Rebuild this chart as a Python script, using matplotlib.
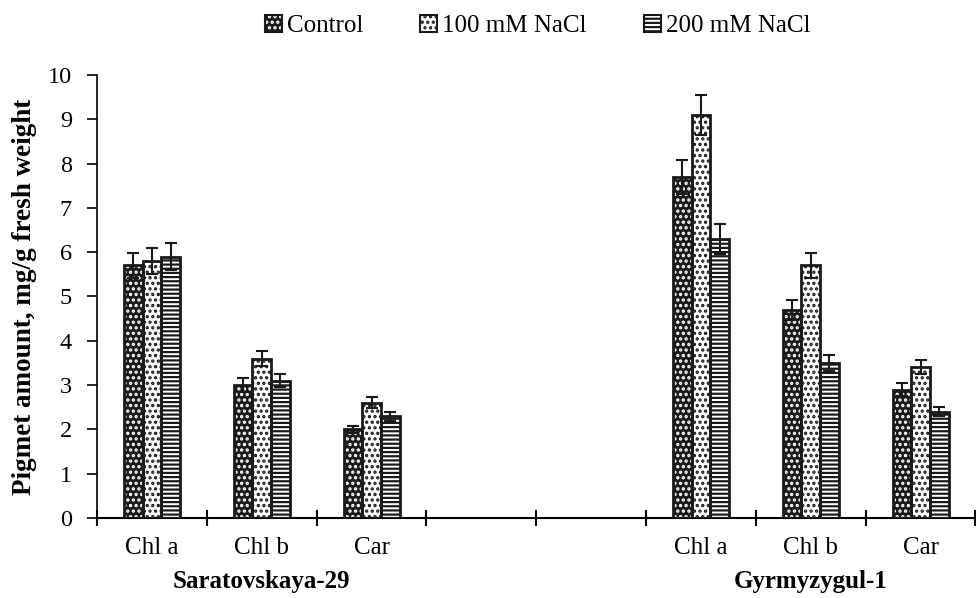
"""
Pigment amounts under salt stress - grouped bar chart
"""
import numpy as np
import matplotlib.pyplot as plt
from matplotlib.patches import Patch

plt.rcParams['font.family'] = ['Liberation Serif', 'DejaVu Serif']
plt.rcParams['hatch.linewidth'] = 1.6

# Data
categories = ['Chl a', 'Chl b', 'Car', '', '', 'Chl a', 'Chl b', 'Car']
groups = ['Saratovskaya-29', 'Gyrmyzygul-1']
series = ['Control', '100 mM NaCl', '200 mM NaCl']
control = [5.7, 3.0, 2.0, 0, 0, 7.7, 4.7, 2.9]
nacl100 = [5.8, 3.6, 2.6, 0, 0, 9.1, 5.7, 3.4]
nacl200 = [5.9, 3.1, 2.3, 0, 0, 6.3, 3.5, 2.4]
err_control = [0.28, 0.15, 0.08, 0, 0, 0.38, 0.22, 0.15]
err_100 = [0.30, 0.17, 0.12, 0, 0, 0.45, 0.28, 0.16]
err_200 = [0.30, 0.15, 0.10, 0, 0, 0.33, 0.18, 0.10]

values = [control, nacl100, nacl200]
errors = [err_control, err_100, err_200]
shown = [0, 1, 2, 5, 6, 7]
dark = '#1a1a1a'

fig = plt.figure(figsize=(9.76, 5.98), dpi=100)
ax = fig.add_axes([0.0994, 0.1338, 0.9, 0.7408])

w = 0.17
x = np.arange(len(categories))
xs = x[shown]
styles = [
    dict(face=dark, hcol='white', hatch='...'),
    dict(face='white', hcol=dark, hatch='...'),
    dict(face='white', hcol=dark, hatch='----'),
]
for i, (vals, errs, st) in enumerate(zip(values, errors, styles)):
    v = np.array(vals)[shown]
    e = np.array(errs)[shown]
    pos = xs + (i - 1) * w
    # fill + pattern
    ax.bar(pos, v, w, color=st['face'], edgecolor=st['hcol'], hatch=st['hatch'],
           linewidth=0, zorder=2)
    # outline
    ax.bar(pos, v, w, fill=False, edgecolor=dark, linewidth=2, zorder=3)
    ax.errorbar(pos, v, yerr=e, fmt='none', ecolor=dark, elinewidth=1.5,
                capsize=4.5, capthick=1.5, zorder=4)

ax.set_xlim(-0.5, len(categories) - 0.5)
ax.set_ylim(0, 10)
ax.set_yticks(range(0, 11))
ax.tick_params(axis='y', labelsize=17.5, direction='out', length=7, width=1.2, pad=11)
ax.set_xticks(np.arange(-0.5, len(categories)))
ax.set_xticklabels([])
ax.tick_params(axis='x', direction='inout', length=12, width=1.5)
ax.set_xticks(x, minor=True)
ax.set_xticklabels(categories, minor=True, fontsize=18)
ax.tick_params(axis='x', which='minor', length=0, pad=14)

for s in ['top', 'right']:
    ax.spines[s].set_visible(False)
ax.spines['left'].set_linewidth(1.2)
ax.spines['bottom'].set_linewidth(1.5)

ax.set_ylabel('Pigmet amount, mg/g fresh weight', fontsize=19.5, fontweight='bold')
ax.yaxis.set_label_coords(-0.068, 0.5)

for gx, g in zip([1, 6], groups):
    ax.text(gx, -0.118, g, transform=ax.get_xaxis_transform(), ha='center', va='top',
            fontsize=18, fontweight='bold')

handles = [Patch(facecolor=st['face'], edgecolor=st['hcol'], hatch=st['hatch'], linewidth=0)
           for st in styles]
handles = [(h, Patch(fill=False, edgecolor=dark, linewidth=1.5)) for h in handles]
fig.legend(handles, series, loc='upper center', bbox_to_anchor=(0.551, 1.0), ncol=3,
           frameon=False, fontsize=18, handlelength=0.68, handleheight=0.68,
           handletextpad=0.2, columnspacing=2.3, borderaxespad=0.2)

fig.savefig('out.png', dpi=100)
